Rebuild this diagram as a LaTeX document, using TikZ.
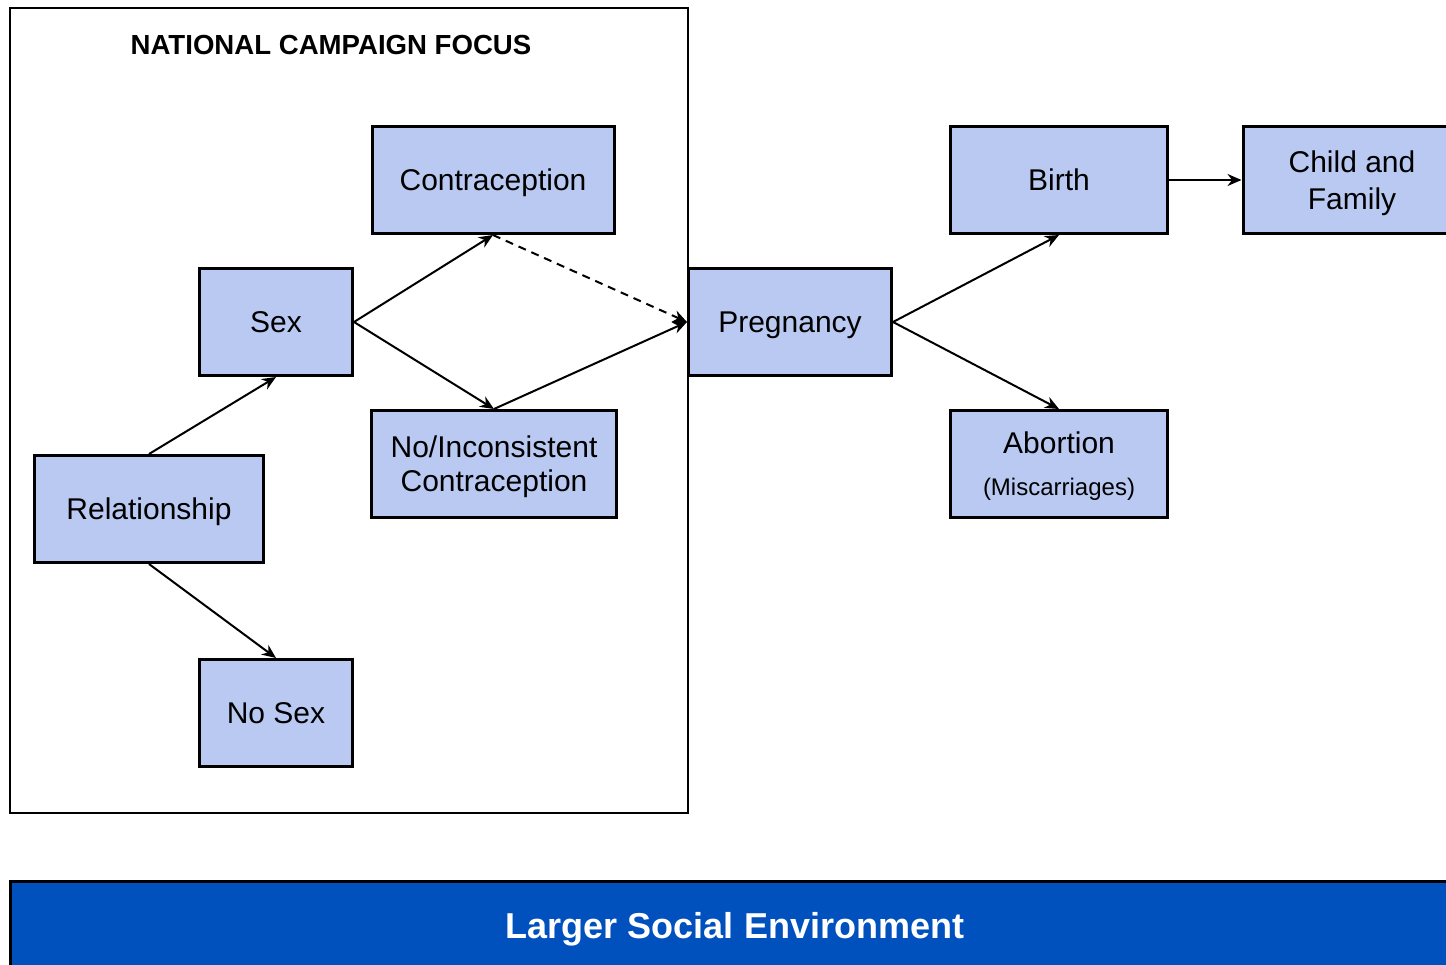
\documentclass[tikz,border=0pt]{standalone}
\usepackage{fontspec}
\setmainfont{Liberation Sans}
\usetikzlibrary{arrows.meta}
\definecolor{boxblue}{RGB}{185,201,242}
\definecolor{envblue}{RGB}{0,80,190}
\tikzset{
  box/.style={draw, line width=1.5pt, fill=boxblue, minimum height=53.5pt,
    inner sep=0pt, align=center, text depth=0pt, font=\fontsize{15}{17}\selectfont},
  link/.style={line width=1pt, -{Stealth[length=7pt,width=6pt]}},
}

\begin{document}
\begin{tikzpicture}[x=0.5pt,y=-0.5pt]
\useasboundingbox (0,0) rectangle (1446,964);
\clip (0,0) rectangle (1446,964);
% campaign frame
\node[draw, line width=1pt, minimum width=339pt, minimum height=402.5pt, inner sep=0pt] (focus) at (349,410.5) {};
\node[font=\fontsize{13.8}{16}\selectfont\bfseries, text depth=0pt] (title) at (331,45) {NATIONAL CAMPAIGN FOCUS};
% boxes
\node[box, minimum width=121pt] (contra) at (493,180) {Contraception};
\node[box, minimum width=76.5pt] (sex) at (276,322) {Sex};
\node[box, minimum width=122.5pt] (noinc) at (494,464) {No/Inconsistent\\Contraception};
\node[box, minimum width=114.5pt] (rel) at (149,509) {Relationship};
\node[box, minimum width=76.5pt] (nosex) at (276,713) {No Sex};
\node[box, minimum width=101.5pt] (preg) at (790,322) {Pregnancy};
\node[box, minimum width=108.5pt] (birth) at (1059,180) {Birth};
\node[box, minimum width=108.5pt] (abort) at (1059,464) {Abortion\\[4pt]{\fontsize{12}{14}\selectfont(Miscarriages)}};
\node[box, minimum width=109pt] (child) at (1352,180) {Child and\\[1.5pt]Family};
% environment bar
\node[draw, line width=1.5pt, fill=envblue, text=white, minimum width=725pt, minimum height=44pt, text depth=0pt,
  font=\fontsize{18}{20}\selectfont\bfseries] (env) at (735,925) {Larger Social Environment};
% arrows
\draw[link] (rel.north) -- (sex.south);
\draw[link] (rel.south) -- (nosex.north);
\draw[link] (sex.east) -- (contra.south);
\draw[link] (sex.east) -- (noinc.north);
\draw[link, dash pattern=on 4pt off 3pt] (contra.south) -- (preg.west);
\draw[link] (noinc.north) -- (preg.west);
\draw[link] (preg.east) -- (birth.south);
\draw[link] (preg.east) -- (abort.north);
\draw[link] (birth.east) -- (child.west);
\end{tikzpicture}
\end{document}
